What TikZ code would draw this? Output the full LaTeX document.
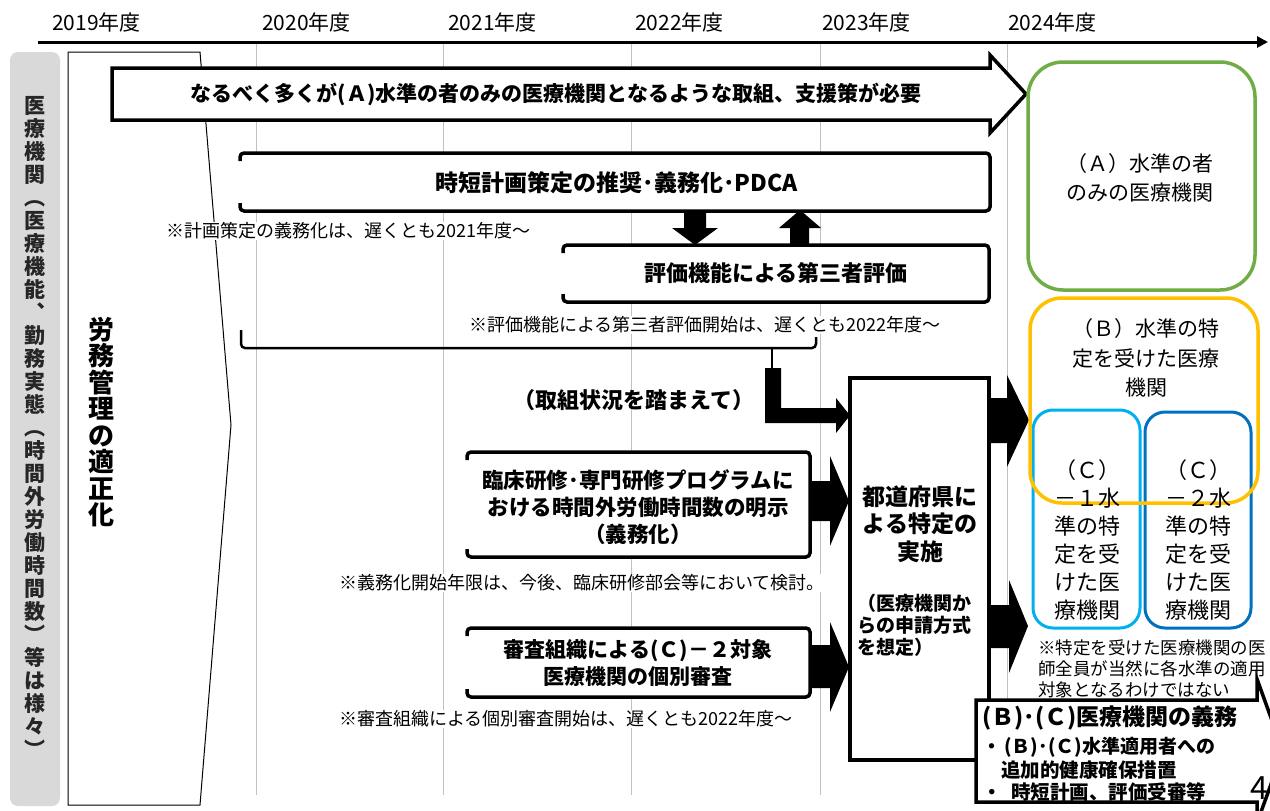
\documentclass[tikz,border=0pt]{standalone}
\usepackage{fontspec}
\setmainfont{Noto Sans CJK JP}
\usetikzlibrary{arrows.meta}
\newcommand\fsz[2]{\fontsize{#1}{#2}\selectfont}
\definecolor{panelgray}{HTML}{D9D9D9}
\definecolor{gridgray}{HTML}{C0C0C0}
\definecolor{agreen}{HTML}{70AD47}
\definecolor{borange}{HTML}{FFC000}
\definecolor{clblue}{HTML}{00B0F0}
\definecolor{cdblue}{HTML}{0070C0}
\begin{document}
\begin{tikzpicture}[x=1pt,y=-1pt,
  gridline/.style={draw=gridgray, line width=0.9pt},
  thickbox/.style={line width=3.5pt, fill=white},
  openbox/.style={line width=3.5pt, rounded corners=4},
  blockarrow/.style={fill=black, draw=none},
  yearlbl/.style={anchor=west, inner sep=0pt, font=\fsz{21}{24}},
  notetxt/.style={anchor=west, fill=white, inner sep=1pt, font=\fsz{18}{21}},
  boldtxt/.style={align=center, inner sep=0pt, font=\bfseries\fsz{21}{27}},
  plaintxt/.style={align=center, inner sep=0pt, font=\fsz{21}{29}},
  levelbox/.style={line width=3.5pt, rounded corners=#1},
]
\useasboundingbox (0,0) rectangle (1270,811);
\clip (0,0) rectangle (1270,811);

% year labels and axis
\node[yearlbl] (y19) at (52,22) {2019年度};
\node[yearlbl] (y20) at (262,22) {2020年度};
\node[yearlbl] (y21) at (448,22) {2021年度};
\node[yearlbl] (y22) at (635,22) {2022年度};
\node[yearlbl] (y23) at (822,22) {2023年度};
\node[yearlbl] (y24) at (1008,22) {2024年度};
\coordinate (axS) at (38,42);
\coordinate (axE) at (1268,42);
\draw[line width=3pt, -{Triangle[length=11pt,width=11pt]}] (axS) -- (axE);

% grid lines
\foreach \gx in {256,443,631,820,1007}
  \draw[gridline] (\gx,44) -- (\gx,795);

% left gray panel
\fill[panelgray, rounded corners=8] (10,52) rectangle (60,806);
\node[align=center, inner sep=0pt, font=\bfseries\fsz{21}{23}, text=black!85] (panel) at (35,427)
 {医\\療\\機\\関\\︵\\医\\療\\機\\能\\︑\\勤\\務\\実\\態\\︵\\時\\間\\外\\労\\働\\時\\間\\数\\︶\\等\\は\\様\\々\\︶};

% chevron
\draw[line width=1pt, fill=white] (68,52) -- (200,52) -- (231,425) -- (200,805) -- (68,805) -- cycle;
\node[align=center, inner sep=0pt, font=\bfseries\fsz{26}{26.5}] (roumu) at (101,422)
 {労\\務\\管\\理\\の\\適\\正\\化};

% top arrow
\draw[thickbox] (112,68) -- (990,68) -- (990,55) -- (1026,94) -- (990,133) -- (990,120) -- (112,120) -- cycle;
\node[boldtxt] (t1) at (556,94) {なるべく多くが(Ａ)水準の者のみの医療機関となるような取組、支援策が必要};

% box 2
\fill[white] (240,153) rectangle (990,211);
\draw[openbox] (240,161) -- (240,153) -- (990,153) -- (990,211) -- (240,211) -- (240,203);
\node[boldtxt, font=\bfseries\fsz{23}{27}] (t2) at (617,183) {時短計画策定の推奨･義務化･PDCA};
\node[notetxt] (n1) at (165,231) {※計画策定の義務化は、遅くとも2021年度～};

% up/down block arrows
\fill[blockarrow] (684,211) -- (706,211) -- (706,228) -- (718,228) -- (695,245) -- (672,228) -- (684,228) -- cycle;
\fill[blockarrow] (790,246) -- (809,246) -- (809,228) -- (821,228) -- (800,210) -- (779,228) -- (790,228) -- cycle;

% box 3
\fill[white] (563,245) rectangle (989,302);
\draw[openbox] (563,253) -- (563,245) -- (989,245) -- (989,302) -- (563,302) -- (563,294);
\node[boldtxt, font=\bfseries\fsz{22}{27}] (t3) at (776,273) {評価機能による第三者評価};
\node[notetxt] (n2) at (468,325) {※評価機能による第三者評価開始は、遅くとも2022年度～};

% bracket
\draw[line width=2.5pt, rounded corners=4] (241,330) -- (241,348) -- (816,348) -- (816,337);
\draw[line width=2.5pt] (772,348) -- (772,369);
\fill[blockarrow] (765,368) -- (781,368) -- (781,408) -- (836,408) -- (836,398) -- (850,415.5) -- (836,433) -- (836,423) -- (765,423) -- cycle;
\node[boldtxt, font=\bfseries\fsz{22}{27}] (t4) at (634,400) {（取組状況を踏まえて）};

% box clinical
\fill[white] (467,452) rectangle (810,557);
\draw[openbox] (467,460) -- (467,452) -- (810,452) -- (810,557) -- (467,557) -- (467,549);
\node[boldtxt, font=\bfseries\fsz{21.5}{27}] (t5) at (638,507) {臨床研修･専門研修プログラムに\\おける時間外労働時間数の明示\\（義務化）};
\node[notetxt] (n3) at (338,583) {※義務化開始年限は、今後、臨床研修部会等において検討。};

% box review
\fill[white] (467,628) rectangle (810,697);
\draw[openbox] (467,636) -- (467,628) -- (810,628) -- (810,697) -- (467,697) -- (467,689);
\node[boldtxt] (t6) at (638,663) {審査組織による(Ｃ)－２対象\\医療機関の個別審査};
\node[notetxt] (n4) at (338,719) {※審査組織による個別審査開始は、遅くとも2022年度～};

% arrows into central box
\fill[blockarrow] (810,481) -- (830,481) -- (830,456) -- (849,501) -- (830,546) -- (830,521) -- (810,521) -- cycle;
\fill[blockarrow] (810,645) -- (830,645) -- (830,622) -- (849,667) -- (830,712) -- (830,688) -- (810,688) -- cycle;

% central box
\draw[line width=3.5pt, fill=white] (850,378) rectangle (989,760);
\node[boldtxt, font=\bfseries\fsz{23}{27.5}] (t7) at (920,524) {都道府県に\\よる特定の\\実施};
\node[align=left, anchor=west, inner sep=0pt, font=\bfseries\fsz{19}{22}] (t8) at (857,625) {（医療機関か\\らの申請方式\\を想定）};

% right arrows
\fill[blockarrow] (989,398) -- (1007,398) -- (1007,375) -- (1029,420) -- (1007,467) -- (1007,443) -- (989,443) -- cycle;
\fill[blockarrow] (989,605) -- (1009,605) -- (1009,580) -- (1028,626) -- (1009,673) -- (1009,648) -- (989,648) -- cycle;

% level boxes
\draw[levelbox=35, draw=agreen] (1028,62) rectangle (1255,290);
\node[plaintxt] (ta) at (1140,178) {（Ａ）水準の者\\のみの医療機関};
\draw[levelbox=20, draw=clblue, line width=3pt] (1033,410) rectangle (1140,628);
\draw[levelbox=20, draw=cdblue, line width=3pt] (1145,412) rectangle (1251,628);
\draw[levelbox=32, draw=borange] (1030,298) rectangle (1258,503);
\node[plaintxt, font=\fsz{21}{29.5}] (tb) at (1146,358) {（Ｂ）水準の特\\定を受けた医療\\機関};
\node[plaintxt, font=\fsz{22}{28}] (tc1) at (1087,540) {（Ｃ）\\－１水\\準の特\\定を受\\けた医\\療機関};
\node[plaintxt, font=\fsz{22}{28}] (tc2) at (1198,540) {（Ｃ）\\－２水\\準の特\\定を受\\けた医\\療機関};
\node[align=left, anchor=west, inner sep=0pt, font=\fsz{17.5}{21}] (n5) at (1038,669) {※特定を受けた医療機関の医\\師全員が当然に各水準の適用\\対象となるわけではない};

% bottom-right arrow box
\draw[thickbox] (976,700) -- (1257,700) -- (1257,679) -- (1283,751) -- (1257,823) -- (1257,802) -- (976,802) -- cycle;
\node[anchor=west, inner sep=0pt, font=\bfseries\fsz{23}{26}] (t9) at (982,718) {(Ｂ)･(Ｃ)医療機関の義務};
\node[anchor=west, inner sep=0pt, font=\bfseries\fsz{19}{22}] (t10) at (982,747) {・\,(Ｂ)･(Ｃ)水準適用者への};
\node[anchor=west, inner sep=0pt, font=\bfseries\fsz{19.5}{22}] (t11) at (1001,770) {追加的健康確保措置};
\node[anchor=west, inner sep=0pt, font=\bfseries\fsz{19.5}{22}] (t12) at (982,792) {・\enspace 時短計画、評価受審等};
\node[inner sep=0pt, font=\fsz{32}{34}] (pg) at (1259,788) {4};
\end{tikzpicture}
\end{document}
